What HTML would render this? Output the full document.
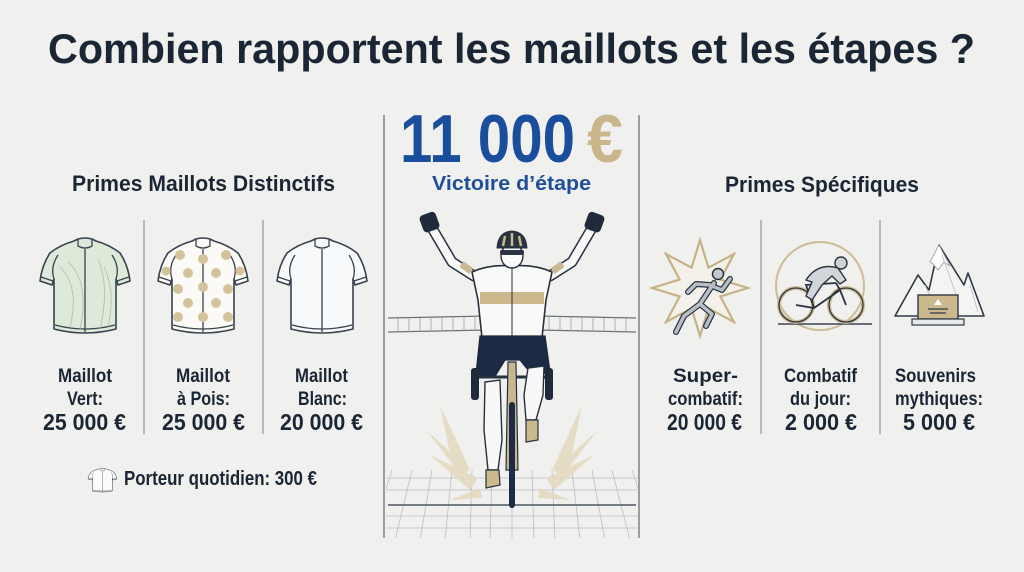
<!DOCTYPE html>
<html><head><meta charset="utf-8"><style>
html,body{margin:0;padding:0;background:#f0f0ee;}
svg{display:block;}
text{font-family:"Liberation Sans",sans-serif;font-weight:bold;fill:#1b2634;}
</style></head><body>
<svg width="1024" height="572" viewBox="0 0 1024 572" xmlns="http://www.w3.org/2000/svg">
<rect width="1024" height="572" fill="#f0f0ee"/>
<defs>
<clipPath id="cp"><rect x="386" y="300" width="252" height="238"/></clipPath>
<g id="jer">
<path d="M38,2 Q45,0 52,2 L56,4 Q70,8 80,16 Q88,28 90,44 L78,48 L76,42 L76,92 Q45,100 14,92 L14,42 L12,48 L0,44 Q2,28 10,16 Q20,8 34,4 Z" stroke="#38424e" stroke-width="1.6" stroke-linejoin="round"/>
<path d="M38,2 L38,9 Q45,13 52,9 L52,2 M45,12 L45,95 M14,42 Q10,30 18,18 M76,42 Q80,30 72,18 M1,40 L13,44 M89,40 L77,44 M15,88 Q45,96 75,88" fill="none" stroke="#38424e" stroke-width="1.3"/>
</g>
</defs>

<!-- Title -->
<text x="48" y="63" font-size="42" textLength="927" lengthAdjust="spacingAndGlyphs">Combien rapportent les maillots et les étapes ?</text>

<!-- Section headings -->
<text x="72" y="191" font-size="22" textLength="263" lengthAdjust="spacingAndGlyphs">Primes Maillots Distinctifs</text>
<text x="725" y="192" font-size="22" textLength="194" lengthAdjust="spacingAndGlyphs">Primes Spécifiques</text>

<!-- Center panel frame -->
<line x1="384" y1="115" x2="384" y2="538" stroke="#7d838b" stroke-width="1.5"/>
<line x1="639" y1="115" x2="639" y2="538" stroke="#7d838b" stroke-width="1.5"/>

<text x="400" y="162" font-size="68" textLength="175" lengthAdjust="spacingAndGlyphs" style="fill:#1a4d9c">11 000</text>
<text x="587" y="162" font-size="68" textLength="36" lengthAdjust="spacingAndGlyphs" style="fill:#c9b68c">€</text>
<text x="432" y="190" font-size="20" textLength="159" lengthAdjust="spacingAndGlyphs" style="fill:#1f4f98">Victoire d’étape</text>

<!-- Left dividers -->
<line x1="144" y1="220" x2="144" y2="434" stroke="#a3a7ad" stroke-width="1.5"/>
<line x1="263" y1="220" x2="263" y2="434" stroke="#a3a7ad" stroke-width="1.5"/>
<!-- Right dividers -->
<line x1="761" y1="220" x2="761" y2="434" stroke="#a3a7ad" stroke-width="1.5"/>
<line x1="880" y1="220" x2="880" y2="434" stroke="#a3a7ad" stroke-width="1.5"/>

<!-- Jerseys -->
<g transform="translate(40,237)" fill="#dde9d9"><use href="#jer"/>
<path d="M20,30 Q40,50 30,90 M28,25 Q50,45 40,92 M58,22 Q70,50 60,92 M64,30 Q76,55 68,90" fill="none" stroke="#a9c2a4" stroke-width="0.8"/></g>
<g transform="translate(158,237)" fill="#fbfaf7"><use href="#jer"/>
<g fill="#d3c39b">
<circle cx="22" cy="18" r="5"/><circle cx="45" cy="22" r="5"/><circle cx="68" cy="18" r="5"/>
<circle cx="8" cy="34" r="4.5"/><circle cx="30" cy="36" r="5"/><circle cx="58" cy="36" r="5"/><circle cx="82" cy="34" r="4.5"/>
<circle cx="20" cy="52" r="5"/><circle cx="45" cy="50" r="5"/><circle cx="70" cy="52" r="5"/>
<circle cx="30" cy="66" r="5"/><circle cx="58" cy="66" r="5"/>
<circle cx="20" cy="80" r="5"/><circle cx="45" cy="80" r="5"/><circle cx="70" cy="80" r="5"/>
</g></g>
<g transform="translate(277,237)" fill="#f8f9fb" stroke="#4e6079"><use href="#jer"/></g>

<!-- Left labels -->
<g font-size="19">
<text x="58" y="382" textLength="54" lengthAdjust="spacingAndGlyphs">Maillot</text>
<text x="67" y="405" textLength="36" lengthAdjust="spacingAndGlyphs">Vert:</text>
<text x="176" y="382" textLength="54" lengthAdjust="spacingAndGlyphs">Maillot</text>
<text x="177" y="405" textLength="53" lengthAdjust="spacingAndGlyphs">à Pois:</text>
<text x="295" y="382" textLength="53" lengthAdjust="spacingAndGlyphs">Maillot</text>
<text x="298" y="405" textLength="49" lengthAdjust="spacingAndGlyphs">Blanc:</text>
</g>
<g font-size="23">
<text x="43" y="430" textLength="83" lengthAdjust="spacingAndGlyphs">25 000 €</text>
<text x="162" y="430" textLength="83" lengthAdjust="spacingAndGlyphs">25 000 €</text>
<text x="280" y="430" textLength="83" lengthAdjust="spacingAndGlyphs">20 000 €</text>
</g>

<!-- Porteur quotidien -->
<g transform="translate(88,468) scale(0.32,0.25)" fill="#fbfbfa" stroke-width="4"><use href="#jer"/></g>
<text x="124" y="485" font-size="20" textLength="193" lengthAdjust="spacingAndGlyphs">Porteur quotidien: 300 €</text>

<!-- Right icons -->
<!-- star -->
<polygon points="700,240 708.4,267.7 733.9,254.1 720.3,279.6 748,288 720.3,296.4 733.9,321.9 708.4,308.3 700,336 691.6,308.3 666.1,321.9 679.7,296.4 652,288 679.7,279.6 666.1,254.1 691.6,267.7" fill="#f3f1ea" stroke="#c5b286" stroke-width="2.2" stroke-linejoin="miter"/>
<g stroke-linecap="round" stroke-linejoin="round" fill="none">
<g stroke="#28323e" stroke-width="6">
<path d="M714,283 L700,304 L684,316 L676,332"/><path d="M700,304 L712,314 L706,326"/><path d="M712,286 L722,290 L730,279"/><path d="M710,285 L696,284 L688,292"/>
</g>
<g stroke="#b9bec6" stroke-width="3.6">
<path d="M714,283 L700,304 L684,316 L676,332"/><path d="M700,304 L712,314 L706,326"/><path d="M712,286 L722,290 L730,279"/><path d="M710,285 L696,284 L688,292"/>
</g></g>
<circle cx="718" cy="274" r="5.5" fill="#c4c8cf" stroke="#28323e" stroke-width="1.5"/>

<!-- cyclist icon -->
<circle cx="820" cy="286" r="44" fill="none" stroke="#cdbd96" stroke-width="2"/>
<line x1="778" y1="324" x2="872" y2="324" stroke="#3a4452" stroke-width="1.5"/>
<circle cx="796" cy="305" r="17" fill="none" stroke="#cdbd96" stroke-width="4"/>
<circle cx="796" cy="305" r="17" fill="none" stroke="#2b3441" stroke-width="1.3"/>
<circle cx="846" cy="305" r="17" fill="none" stroke="#cdbd96" stroke-width="4"/>
<circle cx="846" cy="305" r="17" fill="none" stroke="#2b3441" stroke-width="1.3"/>
<path d="M796,305 L814,308 L840,290 L846,305 M814,308 L806,285 L836,283 M836,283 L840,290" fill="none" stroke="#2b3441" stroke-width="1.8"/>
<path d="M806,280 Q818,262 838,268 L846,280 L840,284 L832,276 L822,285 L812,300 L806,296 L812,282 Z" fill="#d2d5da" stroke="#2b3441" stroke-width="1.4"/>
<circle cx="841" cy="263" r="6" fill="#cfd2d7" stroke="#2b3441" stroke-width="1.4"/>

<!-- mountains -->
<polygon points="895,316 918,275 929,290 939,245 964,285 968,273 984,316" fill="#f4f4f3" stroke="#2f3945" stroke-width="1.6" stroke-linejoin="round"/>
<path d="M930,262 L939,245 L950,266 L944,262 L938,270 L933,264 Z" fill="#ffffff" stroke="#8f959d" stroke-width="0.8"/>
<path d="M942,255 L958,300 M925,285 L934,305 M970,285 L978,312" stroke="#b7bcc3" stroke-width="0.8"/>
<rect x="918" y="295" width="40" height="24" fill="#cbb98d" stroke="#2f3945" stroke-width="1.4"/>
<rect x="912" y="319" width="52" height="6" fill="#e7e8ea" stroke="#2f3945" stroke-width="1.2"/>
<polygon points="938,299 942,305 934,305" fill="#fff"/>
<path d="M928,309 H948 M930,313 H946" stroke="#2f3945" stroke-width="1.2"/>

<!-- Right labels -->
<g font-size="19">
<text x="673" y="382" textLength="65" lengthAdjust="spacingAndGlyphs">Super-</text>
<text x="668" y="405" textLength="75" lengthAdjust="spacingAndGlyphs">combatif:</text>
<text x="784" y="382" textLength="73" lengthAdjust="spacingAndGlyphs">Combatif</text>
<text x="790" y="405" textLength="61" lengthAdjust="spacingAndGlyphs">du jour:</text>
<text x="895" y="382" textLength="81" lengthAdjust="spacingAndGlyphs">Souvenirs</text>
<text x="895" y="405" textLength="88" lengthAdjust="spacingAndGlyphs">mythiques:</text>
</g>
<g font-size="23">
<text x="667" y="430" textLength="75" lengthAdjust="spacingAndGlyphs">20 000 €</text>
<text x="785" y="430" textLength="72" lengthAdjust="spacingAndGlyphs">2 000 €</text>
<text x="903" y="430" textLength="72" lengthAdjust="spacingAndGlyphs">5 000 €</text>
</g>

<!-- Center illustration -->
<g clip-path="url(#cp)">
<!-- floor grid -->
<g stroke="#b9bfc7" stroke-width="0.8">
<line x1="386" y1="478" x2="638" y2="478"/><line x1="386" y1="490" x2="638" y2="490"/>
<line x1="386" y1="516" x2="638" y2="516"/><line x1="386" y1="528" x2="638" y2="528"/>
<line x1="392" y1="470" x2="370" y2="540"/><line x1="412" y1="470" x2="395" y2="540"/>
<line x1="432" y1="470" x2="420" y2="540"/><line x1="452" y1="470" x2="445" y2="540"/>
<line x1="472" y1="470" x2="470" y2="540"/><line x1="492" y1="470" x2="490" y2="540"/>
<line x1="512" y1="470" x2="512" y2="540"/><line x1="532" y1="470" x2="534" y2="540"/>
<line x1="552" y1="470" x2="555" y2="540"/><line x1="572" y1="470" x2="580" y2="540"/>
<line x1="592" y1="470" x2="605" y2="540"/><line x1="612" y1="470" x2="630" y2="540"/>
<line x1="632" y1="470" x2="655" y2="540"/>
</g>
<line x1="388" y1="505" x2="636" y2="505" stroke="#4d5560" stroke-width="1.6"/>
</g>
<!-- finish banner -->
<g stroke="#6b727c" stroke-width="1.2" fill="none">
<path d="M388,318 L488,316 M388,332 L488,330 M537,316 L636,318 M537,330 L636,332"/>
</g>
<g stroke="#9aa1aa" stroke-width="0.8">
<path d="M398,318V332 M409,318V332 M420,318V332 M431,317V331 M442,317V331 M453,317V331 M464,317V331 M475,316V330 M549,316V330 M560,317V331 M571,317V331 M582,317V331 M593,317V331 M604,318V332 M615,318V332 M626,318V332"/>
</g>
<!-- gold burst -->
<g fill="#e4dac2" opacity="0.9">
<polygon points="440,405 470,470 455,478"/><polygon points="430,455 478,478 470,490"/><polygon points="426,430 468,468 460,474"/>
<polygon points="450,500 480,488 482,498"/><polygon points="582,405 552,470 567,478"/><polygon points="594,455 546,478 554,490"/><polygon points="598,430 556,468 564,474"/><polygon points="570,500 540,488 538,498"/>
</g>
<!-- arms -->
<g stroke-linecap="round" stroke-linejoin="round" fill="none">
<path d="M432,228 L452,262 L474,276" stroke="#27313e" stroke-width="11"/>
<path d="M432,228 L452,262 L474,276" stroke="#f7f7f7" stroke-width="8"/>
<path d="M592,228 L572,262 L550,276" stroke="#27313e" stroke-width="11"/>
<path d="M592,228 L572,262 L550,276" stroke="#f7f7f7" stroke-width="8"/>
</g>
<rect x="463" y="262" width="7" height="12" fill="#cbb98d" transform="rotate(-55 466 268)"/>
<rect x="554" y="262" width="7" height="12" fill="#cbb98d" transform="rotate(55 558 268)"/>
<!-- fists -->
<rect x="421" y="213" width="17" height="18" rx="4" fill="#1f2a3a" transform="rotate(-20 430 222)"/>
<rect x="586" y="213" width="17" height="18" rx="4" fill="#1f2a3a" transform="rotate(20 594 222)"/>
<!-- torso -->
<path d="M472,272 Q490,264 512,266 Q534,264 552,272 L546,300 L542,338 L482,338 L478,300 Z" fill="#f9f9f8" stroke="#27313e" stroke-width="1.6"/>
<rect x="480" y="292" width="64" height="12" fill="#cbb98d"/>
<line x1="512" y1="268" x2="512" y2="338" stroke="#27313e" stroke-width="1"/>
<!-- head -->
<ellipse cx="512" cy="256" rx="11" ry="12" fill="#fafafa" stroke="#27313e" stroke-width="1.4"/>
<path d="M497,248 Q498,232 512,231 Q526,232 527,248 Z" fill="#2a3342" stroke="#27313e" stroke-width="1"/>
<path d="M503,246 L505,236 M512,246 L512,233 M521,246 L519,236" stroke="#cbb98d" stroke-width="2.5"/>
<rect x="500" y="250" width="24" height="5" rx="2" fill="#2a3342"/>
<!-- shorts -->
<path d="M480,336 L545,336 L550,372 L533,376 L520,360 L505,360 L494,378 L476,374 Z" fill="#1d2a45" stroke="#1b2434" stroke-width="1.2"/>
<!-- bike -->
<line x1="474" y1="377" x2="551" y2="377" stroke="#27313e" stroke-width="3"/>
<rect x="471" y="368" width="8" height="32" rx="3" fill="#1f2a3a"/>
<rect x="545" y="368" width="8" height="32" rx="3" fill="#1f2a3a"/>
<path d="M508,362 L516,362 L518,470 L506,470 Z" fill="#c7b78f" stroke="#27313e" stroke-width="1.2"/>
<line x1="512" y1="405" x2="512" y2="505" stroke="#1d2a45" stroke-width="6" stroke-linecap="round"/>
<!-- legs -->
<path d="M485,382 L500,380 L502,440 L498,470 L488,470 L484,430 Z" fill="#f8f8f8" stroke="#27313e" stroke-width="1.4"/>
<path d="M486,470 L499,470 L500,485 L486,488 Z" fill="#cbb98d" stroke="#27313e" stroke-width="1.2"/>
<path d="M528,368 L544,366 L543,395 L536,420 L526,420 L524,395 Z" fill="#f8f8f8" stroke="#27313e" stroke-width="1.4"/>
<path d="M526,420 L538,420 L538,440 L526,442 Z" fill="#cbb98d" stroke="#27313e" stroke-width="1.2"/>
</svg>
</body></html>
